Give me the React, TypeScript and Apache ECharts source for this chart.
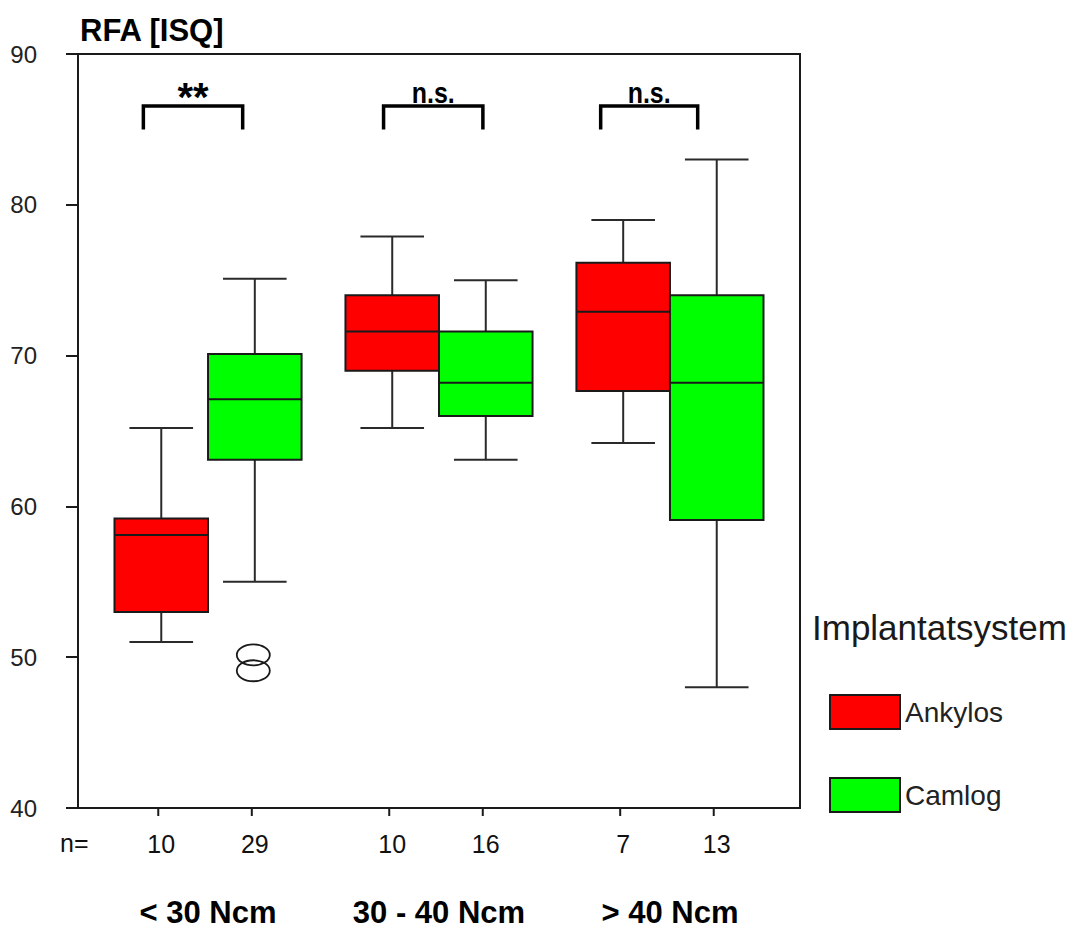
import React, { useEffect, useRef } from "react";
import * as echarts from "echarts";

// ---- data ----
const groupLabels = ["< 30 Ncm", "30 - 40 Ncm", "> 40 Ncm"];
const systems = ["Ankylos", "Camlog"];
// [min, q1, median, q3, max] per torque group
const ankylosStats = [
  [51.0, 53.0, 58.1, 59.2, 65.2],
  [65.2, 69.0, 71.6, 74.0, 77.9],
  [64.2, 67.65, 72.9, 76.15, 79.0],
];
const camlogStats = [
  [55.0, 63.1, 67.1, 70.1, 75.1],
  [63.1, 66.0, 68.2, 71.6, 75.0],
  [48.0, 59.1, 68.2, 74.0, 83.0],
];
const ankylosN = [10, 10, 7];
const camlogN = [29, 16, 13];
// outliers: [group index, value]
const camlogOutliers = [
  [0, 50.15],
  [0, 49.1],
];
const significance = ["**", "n.s.", "n.s."];
const bracketFrom = [-0.28, -0.24, -0.3];
const bracketTo = [0.15, 0.19, 0.12];
const bracketTop = 86.55;
const bracketBottom = 85.0;
const yTicks = [40, 50, 60, 70, 80, 90];

const FONT = "'Liberation Sans', Arial, Helvetica, sans-serif";
const BOX_W = 0.405;

function boxRender(offset: number, counts: number[]) {
  return (params: any, api: any) => {
    const g = api.value(0);
    const mn = api.value(1);
    const q1 = api.value(2);
    const md = api.value(3);
    const q3 = api.value(4);
    const mx = api.value(5);
    const cx = g + offset;
    const left = api.coord([cx - BOX_W / 2, q3]);
    const right = api.coord([cx + BOX_W / 2, q1]);
    const c = api.coord([cx, md]);
    const pMin = api.coord([cx, mn])[1];
    const pMax = api.coord([cx, mx])[1];
    const pMed = c[1];
    const x0 = left[0];
    const x1 = right[0];
    const xc = c[0];
    const capHalf = (x1 - x0) * 0.34;
    const cs = params.coordSys;
    const bottom = cs.y + cs.height;
    const lineStyle = { stroke: "#2a2a2a", lineWidth: 2 };
    return {
      type: "group",
      children: [
        { type: "line", shape: { x1: xc, y1: left[1], x2: xc, y2: pMax }, style: lineStyle },
        { type: "line", shape: { x1: xc, y1: right[1], x2: xc, y2: pMin }, style: lineStyle },
        { type: "line", shape: { x1: xc - capHalf, y1: pMax, x2: xc + capHalf, y2: pMax }, style: lineStyle },
        { type: "line", shape: { x1: xc - capHalf, y1: pMin, x2: xc + capHalf, y2: pMin }, style: lineStyle },
        {
          type: "rect",
          shape: { x: x0, y: left[1], width: x1 - x0, height: right[1] - left[1] },
          style: { fill: api.visual("color"), stroke: "#1a1a1a", lineWidth: 2 },
        },
        { type: "line", shape: { x1: x0, y1: pMed, x2: x1, y2: pMed }, style: { stroke: "#1a1a1a", lineWidth: 2 } },
        { type: "line", shape: { x1: xc - 3, y1: bottom, x2: xc - 3, y2: bottom + 8 }, style: { stroke: "#1a1a1a", lineWidth: 2 } },
        {
          type: "text",
          style: {
            text: String(counts[params.dataIndex]),
            x: xc,
            y: bottom + 36,
            align: "center",
            verticalAlign: "middle",
            fill: "#111",
            font: `25px ${FONT}`,
          },
        },
      ],
    };
  };
}

export default function App() {
  const ref = useRef<HTMLDivElement>(null);
  useEffect(() => {
    if (!ref.current) return;
    const chart = echarts.init(ref.current, undefined, { renderer: "svg" });

    const ankData = ankylosStats.map((s, i) => [i, ...s]);
    const camData = camlogStats.map((s, i) => [i, ...s]);
    const annData = groupLabels.map((_, i) => [i, bracketFrom[i], bracketTo[i], bracketTop, bracketBottom]);

    chart.setOption({
      animation: false,
      backgroundColor: "#ffffff",
      textStyle: { fontFamily: FONT },
      grid: {
        left: 78,
        top: 54,
        width: 722,
        height: 754,
        show: true,
        borderColor: "#1a1a1a",
        borderWidth: 2,
        backgroundColor: "transparent",
      },
      xAxis: {
        type: "value",
        min: -0.563,
        max: 2.563,
        show: false,
      },
      yAxis: {
        type: "value",
        min: yTicks[0],
        max: yTicks[yTicks.length - 1],
        interval: 10,
        axisLine: { show: true, onZero: false, lineStyle: { color: "#1a1a1a", width: 2 } },
        axisTick: { show: true, length: 12, lineStyle: { color: "#1a1a1a", width: 2 } },
        axisLabel: { fontSize: 24, color: "#222", margin: 41, fontFamily: FONT },
        splitLine: { show: false },
      },
      legend: {
        data: systems,
        orient: "vertical",
        left: 824,
        top: 689,
        itemWidth: 70,
        itemHeight: 34,
        itemGap: 47,
        icon: "rect",
        itemStyle: { borderColor: "#1a1a1a", borderWidth: 2 },
        textStyle: { fontSize: 28, color: "#222", fontFamily: FONT },
      },
      graphic: [
        {
          type: "text",
          left: 80,
          top: 15,
          style: { text: "RFA [ISQ]", font: `bold 31px ${FONT}`, fill: "#000" },
        },
        {
          type: "text",
          x: 60,
          y: 843,
          style: { text: "n=", font: `25px ${FONT}`, fill: "#111", verticalAlign: "middle", align: "left" },
        },
        {
          type: "text",
          x: 812,
          y: 627,
          style: { text: "Implantatsystem", font: `35px ${FONT}`, fill: "#1a1a1a", verticalAlign: "middle", align: "left" },
        },
      ],
      series: [
        {
          name: systems[0],
          type: "custom",
          itemStyle: { color: "#ff0000" },
          renderItem: boxRender(-BOX_W / 2, ankylosN),
          data: ankData,
          z: 3,
        },
        {
          name: systems[1],
          type: "custom",
          itemStyle: { color: "#00ff00" },
          renderItem: boxRender(BOX_W / 2, camlogN),
          data: camData,
          z: 3,
        },
        {
          name: "Camlog outliers",
          type: "custom",
          renderItem: (params: any, api: any) => {
            const p = api.coord([api.value(0) + BOX_W / 2, api.value(1)]);
            return {
              type: "ellipse",
              shape: { cx: p[0] - 1.5, cy: p[1], rx: 16.5, ry: 10.5 },
              style: { fill: "none", stroke: "#1a1a1a", lineWidth: 1.8 },
            };
          },
          data: camlogOutliers,
          z: 4,
        },
        {
          name: "annotations",
          type: "custom",
          renderItem: (params: any, api: any) => {
            const g = api.value(0);
            const a = api.coord([g + api.value(1), api.value(3)]);
            const b = api.coord([g + api.value(2), api.value(4)]);
            const cx = (a[0] + b[0]) / 2;
            const cs = params.coordSys;
            const bottom = cs.y + cs.height;
            const label = significance[params.dataIndex];
            const isStar = label === "**";
            const ls = { stroke: "#000", lineWidth: 3.5, fill: "none" };
            return {
              type: "group",
              children: [
                {
                  type: "polyline",
                  shape: { points: [[a[0], b[1]], [a[0], a[1]], [b[0], a[1]], [b[0], b[1]]] },
                  style: ls,
                },
                {
                  type: "text",
                  x: cx,
                  y: isStar ? a[1] - 9 : a[1] - 13,
                  scaleX: isStar ? 1 : 0.86,
                  style: {
                    text: label,
                    x: 0,
                    y: 0,
                    align: "center",
                    verticalAlign: "middle",
                    fill: "#000",
                    font: isStar ? `bold 40px ${FONT}` : `bold 29px ${FONT}`,
                  },
                },
                {
                  type: "text",
                  x: api.coord([g, 0])[0],
                  y: bottom + 104,
                  style: {
                    text: groupLabels[params.dataIndex],
                    x: 0,
                    y: 0,
                    align: "center",
                    verticalAlign: "middle",
                    lineHeight: 31,
                    fill: "#000",
                    font: `bold 31px ${FONT}`,
                  },
                },
              ],
            };
          },
          data: annData,
          z: 5,
        },
      ],
    });
    return () => chart.dispose();
  }, []);
  return (
    <div
      ref={ref}
      style={{ position: "absolute", left: 0, top: 0, width: 1072, height: 928 }}
    />
  );
}
